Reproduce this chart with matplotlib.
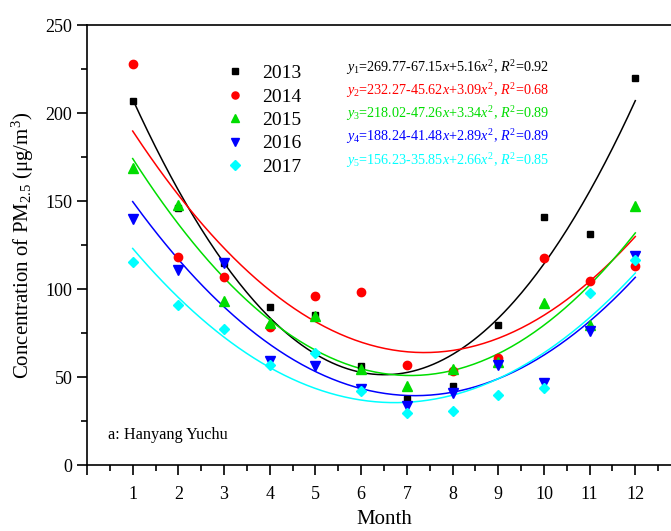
import numpy as np
import matplotlib
matplotlib.use("Agg")
import matplotlib.pyplot as plt
from matplotlib.ticker import MultipleLocator, FixedLocator

plt.rcParams["font.family"] = ["Liberation Serif", "DejaVu Serif"]
plt.rcParams["mathtext.fontset"] = "custom"
plt.rcParams["mathtext.rm"] = "Liberation Serif"
plt.rcParams["mathtext.it"] = "Liberation Serif:italic"

months = np.arange(1, 13)
years = ["2013", "2014", "2015", "2016", "2017"]
pm_2013 = [207, 146, 115, 90, 85, 56, 37.5, 45, 79.5, 141, 131, 220]
pm_2014 = [228, 118, 107, 78.5, 96, 98.5, 57, 53.5, 61, 117.5, 104.5, 113]
pm_2015 = [169, 148, 93, 80.5, 84.7, 54.5, 45, 54.5, 58.5, 92, 79.5, 147]
pm_2016 = [140, 111, 115, 59, 56, 43, 33.5, 41, 57, 46.5, 76, 119]
pm_2017 = [115.5, 91, 77.5, 57, 63.5, 42, 29.5, 30.7, 40, 43.6, 97.5, 116.5]
# quadratic fits: a + b*x + c*x^2
coef_a = [269.77, 232.27, 218.02, 188.24, 156.23]
coef_b = [-67.15, -45.62, -47.26, -41.48, -35.85]
coef_c = [5.16, 3.09, 3.34, 2.89, 2.66]
r2 = ["0.92", "0.68", "0.89", "0.89", "0.85"]

series = [pm_2013, pm_2014, pm_2015, pm_2016, pm_2017]
colors = ["black", "red", "#00dd00", "blue", "cyan"]
markers = ["s", "o", "^", "v", "D"]
msizes = [5, 6, 6.5, 6.5, 5.5]

fig = plt.figure(figsize=(6.71, 5.31), dpi=100)
ax = fig.add_axes([87 / 671, 66 / 531, 594 / 671, 440 / 531])

xs = np.linspace(1, 12, 200)
for i in range(5):
    ax.plot(xs, coef_a[i] + coef_b[i] * xs + coef_c[i] * xs ** 2,
            color=colors[i], lw=1.1, zorder=2)
for i in range(5):
    ax.plot(months, series[i], ls="none", marker=markers[i], ms=msizes[i],
            color=colors[i], label=years[i], zorder=3)

ax.set_xlim(0, 13)
ax.set_ylim(0, 250)
ax.xaxis.set_major_locator(FixedLocator(range(0, 14)))
ax.set_xticklabels([""] + [str(m) for m in months] + [""])
ax.xaxis.set_minor_locator(MultipleLocator(0.5))
ax.yaxis.set_major_locator(MultipleLocator(50))
ax.yaxis.set_minor_locator(MultipleLocator(25))
ax.tick_params(which="major", direction="out", length=7, width=1.2, labelsize=13)
ax.tick_params(which="minor", direction="out", length=4, width=1.2)
ax.tick_params(axis="x", pad=8)
for s in ax.spines.values():
    s.set_linewidth(1.2)

ax.set_ylabel("Concentration of PM$_{2.5}$ ($\\mathrm{\\mu}$g/m$^{3}$)", fontsize=15, labelpad=7)
ax.set_xlabel("Month", fontsize=15, labelpad=5)

leg = ax.legend(loc="upper left", bbox_to_anchor=(0.2, 0.95), frameon=False,
                fontsize=14, handletextpad=0.8, labelspacing=0.3,
                handlelength=1.2, markerscale=0.85)

for i in range(5):
    a, b, c = coef_a[i], -coef_b[i], coef_c[i]
    txt = ("$y_{%d}$=%.2f-%.2f$x$+%.2f$x^{2}$, $R^{2}$=%s"
           % (i + 1, a, b, c, r2[i]))
    ax.text(0.436, 0.903 - i * 0.0525, txt, transform=ax.transAxes,
            color=colors[i], fontsize=10.2, va="center", ha="left")

ax.text(0.036, 0.068, "a: Hanyang Yuchu", transform=ax.transAxes,
        fontsize=11.7, va="center", ha="left")

fig.savefig("out.png", dpi=100)
